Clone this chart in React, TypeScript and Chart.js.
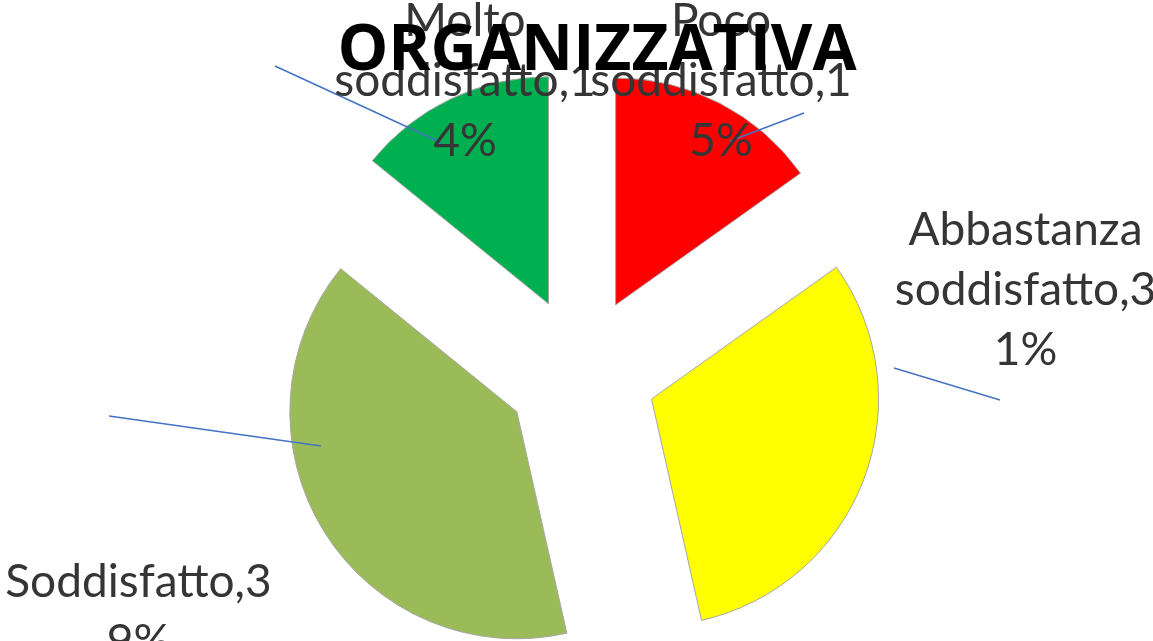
import React, { useEffect, useRef } from 'react';
import { Chart, ArcElement, PieController } from 'chart.js';

// ---------- data ----------
const categories = ['Poco soddisfatto', 'Abbastanza soddisfatto', 'Soddisfatto', 'Molto soddisfatto'];
const values = [15, 31, 39, 14];
const labelLines = [
  ['Poco', 'soddisfatto,1', '5%'],
  ['Abbastanza', 'soddisfatto,3', '1%'],
  ['Soddisfatto,3', '9%'],
  ['Molto', 'soddisfatto,1', '4%'],
];
const chartTitle = 'ORGANIZZATIVA';

// ---------- styles / layout ----------
const sliceColors = ['#FF0000', '#FFFF00', '#9BBB59', '#00B050'];
const EXPLODE = 75.5;
const RADIUS = 227;
const CANVAS_W = 1162;
const CANVAS_H = 744;
const LINE_H = 60;
const LABEL_POS = [
  { dx: 140, dy: -336 },
  { dx: 444.5, dy: -127 },
  { dx: -442.5, dy: 225 },
  { dx: -116, dy: -336 },
];
const LEADERS = [
  [[223, -259], [149, -231]],
  [[313, -4], [419, 28]],
  [[-472, 44], [-260, 74]],
  [[-306, -306], [-139, -229]],
];
const TITLE_X = 597;
const TITLE_Y = 70;

class ExplodedArc extends ArcElement {
  static id = 'explodedArc';
  draw(ctx: CanvasRenderingContext2D) {
    const half = ((this as any).startAngle + (this as any).endAngle) / 2;
    ctx.save();
    ctx.translate(Math.cos(half) * EXPLODE, Math.sin(half) * EXPLODE);
    super.draw(ctx);
    ctx.restore();
  }
}

Chart.register(ExplodedArc, PieController);
(Chart.defaults.datasets as any).pie.dataElementType = 'explodedArc';

const annotate = {
  id: 'annotate',
  afterDatasetsDraw(chart: any) {
    const ctx: CanvasRenderingContext2D = chart.ctx;
    const arc = chart.getDatasetMeta(0).data[0];
    const cx = arc.x;
    const cy = arc.y;
    ctx.save();
    ctx.strokeStyle = '#4472C4';
    ctx.lineWidth = 1.5;
    LEADERS.forEach(([a, b]) => {
      ctx.beginPath();
      ctx.moveTo(cx + a[0], cy + a[1]);
      ctx.lineTo(cx + b[0], cy + b[1]);
      ctx.stroke();
    });
    ctx.fillStyle = '#353535';
    ctx.font = '46px Lato';
    ctx.textAlign = 'center';
    ctx.textBaseline = 'alphabetic';
    labelLines.forEach((lines, i) => {
      lines.forEach((t, j) => {
        ctx.fillText(t, cx + LABEL_POS[i].dx, cy + LABEL_POS[i].dy + j * LINE_H);
      });
    });
    ctx.fillStyle = '#000000';
    ctx.font = 'bold 64px "Open Sans"';
    ctx.fillText(chartTitle, TITLE_X, TITLE_Y);
    ctx.restore();
  },
};

export default function App() {
  const ref = useRef<HTMLCanvasElement>(null);
  useEffect(() => {
    if (!ref.current) return;
    const chart = new Chart(ref.current, {
      type: 'pie',
      data: {
        labels: categories,
        datasets: [
          {
            data: values,
            backgroundColor: sliceColors,
            borderColor: '#A6A6A6',
            borderWidth: 1,
            radius: RADIUS,
          } as any,
        ],
      },
      options: {
        responsive: false,
        animation: false,
        events: [],
        layout: { padding: 0 },
      },
      plugins: [annotate],
    });
    return () => chart.destroy();
  }, []);
  return (
    <div
      style={{
        position: 'fixed',
        left: 0,
        top: 0,
        width: 1153,
        height: 641,
        overflow: 'hidden',
        background: '#ffffff',
      }}
    >
      <canvas ref={ref} width={CANVAS_W} height={CANVAS_H} style={{ display: 'block', width: CANVAS_W, height: CANVAS_H }} />
    </div>
  );
}
